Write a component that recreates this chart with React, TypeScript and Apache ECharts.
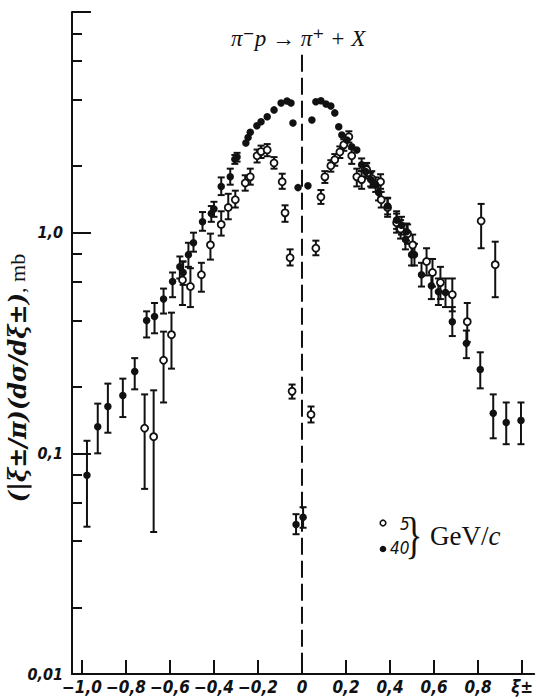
import React, { useEffect, useRef } from "react";
import * as echarts from "echarts";

// 5 GeV/c (open circles)
const x5 = [-0.715, -0.674, -0.629, -0.593, -0.543, -0.507, -0.457, -0.416, -0.367, -0.335, -0.303, -0.258, -0.235,
  -0.204, -0.186, -0.158, -0.127, -0.090, -0.077, -0.054, -0.045, 0.041, 0.063, 0.086, 0.104, 0.131, 0.149, 0.172,
  0.190, 0.213, 0.226, 0.249, 0.271, 0.294, 0.317, 0.357, 0.360, 0.389, 0.430, 0.448, 0.480, 0.503, 0.566, 0.593,
  0.629, 0.683, 0.751, 0.814, 0.878];
const y5 = [0.13, 0.119, 0.264, 0.345, 0.61, 0.57, 0.645, 0.88, 1.09, 1.30, 1.41, 1.68, 1.79,
  2.23, 2.33, 2.37, 2.07, 1.70, 1.23, 0.77, 0.191, 0.15, 0.85, 1.45, 1.79, 2.01, 2.14, 2.32,
  2.50, 2.72, 2.23, 1.79, 1.74, 1.93, 1.76, 1.70, 1.41, 1.30, 1.11, 1.04, 0.99, 0.88, 0.74, 0.66,
  0.594, 0.524, 0.395, 1.13, 0.716];
const lo5 = [0.069, 0.044, 0.17, 0.242, 0.47, 0.46, 0.54, 0.755, 0.97, 1.15, 1.3, 1.55, 1.65,
  2.08, 2.18, 2.22, 1.95, 1.58, 1.12, 0.71, 0.177, 0.138, 0.79, 1.35, 1.68, 1.89, 2.01, 2.18,
  2.35, 2.56, 2.05, 1.62, 1.58, 1.8, 1.6, 1.58, 1.3, 1.18, 1.0, 0.94, 0.89, 0.79, 0.64, 0.57,
  0.5, 0.44, 0.32, 0.85, 0.51];
const hi5 = [0.185, 0.193, 0.356, 0.434, 0.74, 0.69, 0.73, 0.99, 1.25, 1.5, 1.55, 1.82, 1.95,
  2.38, 2.48, 2.52, 2.2, 1.85, 1.33, 0.84, 0.205, 0.163, 0.92, 1.56, 1.9, 2.13, 2.27, 2.46,
  2.65, 2.88, 2.4, 1.95, 1.9, 2.07, 1.9, 1.84, 1.53, 1.43, 1.22, 1.14, 1.09, 0.98, 0.85, 0.76,
  0.7, 0.62, 0.48, 1.35, 0.91];

// 40 GeV/c (filled dots)
const x40 = [-0.977, -0.928, -0.882, -0.814, -0.760, -0.706, -0.670, -0.629, -0.588, -0.555, -0.540, -0.516, -0.493,
  -0.452, -0.412, -0.400, -0.367, -0.326, -0.305, -0.295, -0.255, -0.245, -0.235, -0.205, -0.186, -0.158, -0.127,
  -0.095, -0.068, -0.050, -0.041, -0.027, -0.018, 0.005, 0.027, 0.045, 0.063, 0.086, 0.109, 0.131, 0.149, 0.167,
  0.181, 0.204, 0.226, 0.249, 0.271, 0.290, 0.312, 0.335, 0.348, 0.389, 0.430, 0.452, 0.470, 0.475, 0.498, 0.511,
  0.543, 0.588, 0.620, 0.652, 0.683, 0.747, 0.810, 0.869, 0.928, 0.995];
const y40 = [0.0795, 0.132, 0.163, 0.183, 0.235, 0.40, 0.417, 0.50, 0.60, 0.70, 0.66, 0.795, 0.90,
  1.12, 1.22, 1.28, 1.62, 1.79, 2.15, 2.20, 2.55, 2.70, 2.85, 3.05, 3.18, 3.35, 3.60,
  3.87, 3.95, 3.87, 3.14, 0.0476, 1.60, 0.0513, 1.63, 3.24, 3.92, 3.96, 3.83, 3.75, 3.49, 3.02,
  2.77, 2.63, 2.45, 2.37, 2.03, 1.89, 1.74, 1.65, 1.52, 1.32, 1.14, 1.08, 0.93, 1.01, 0.795, 0.795,
  0.645, 0.575, 0.54, 0.535, 0.395, 0.315, 0.24, 0.152, 0.138, 0.141];
const lo40 = [0.0465, 0.1, 0.124, 0.146, 0.195, 0.335, 0.35, 0.43, 0.51, 0.62, 0.58, 0.7, 0.82,
  1.02, 1.12, 1.18, 1.48, 1.65, 2.05, 2.1, null, null, null, null, null, null, null,
  null, null, null, null, 0.043, null, 0.046, null, null, null, null, null, null, null, null,
  null, null, null, null, 1.9, 1.76, 1.62, 1.53, 1.4, 1.21, 1.04, 0.98, 0.84, 0.92, 0.71, 0.71,
  0.57, 0.5, 0.47, 0.46, 0.34, 0.27, 0.197, 0.117, 0.11, 0.11];
const hi40 = [0.114, 0.168, 0.207, 0.218, 0.27, 0.44, 0.48, 0.558, 0.66, 0.78, 0.74, 0.9, 1.0,
  1.24, 1.32, 1.38, 1.78, 1.95, 2.25, 2.3, null, null, null, null, null, null, null,
  null, null, null, null, 0.053, null, 0.057, null, null, null, null, null, null, null, null,
  null, null, null, null, 2.17, 2.02, 1.87, 1.78, 1.64, 1.44, 1.25, 1.18, 1.03, 1.1, 0.89, 0.89,
  0.73, 0.66, 0.62, 0.62, 0.46, 0.36, 0.287, 0.185, 0.17, 0.17];

const xTicks = [-1, -0.8, -0.6, -0.4, -0.2, 0, 0.2, 0.4, 0.6, 0.8, 1];
const yMajor = [0.01, 0.1, 1, 10];
const yLabels = [0.01, 0.1, 1];
const yMinor = [0.02, 0.04, 0.06, 0.08, 0.2, 0.4, 0.6, 0.8, 2, 4, 6, 8];

const NARROW = "'Liberation Sans Narrow', 'DejaVu Sans Condensed', sans-serif";
const SERIF = "'Liberation Serif', 'DejaVu Serif', serif";

function errData(xs: number[], lo: (number | null)[], hi: (number | null)[]) {
  const out: number[][] = [];
  xs.forEach((x, i) => {
    if (lo[i] != null && hi[i] != null) out.push([x, lo[i] as number, hi[i] as number]);
  });
  return out;
}

function renderErr(params: any, api: any) {
  const x = api.value(0);
  const a = api.coord([x, api.value(1)]);
  const b = api.coord([x, api.value(2)]);
  const st = { stroke: "#111", lineWidth: 2 };
  const c = 3.5;
  return {
    type: "group",
    children: [
      { type: "line", shape: { x1: a[0], y1: a[1], x2: b[0], y2: b[1] }, style: st },
      { type: "line", shape: { x1: a[0] - c, y1: a[1], x2: a[0] + c, y2: a[1] }, style: st },
      { type: "line", shape: { x1: b[0] - c, y1: b[1], x2: b[0] + c, y2: b[1] }, style: st },
    ],
  };
}

function fmtX(v: number) {
  const r = Math.round(v * 10) / 10;
  if (r === 0) return "0";
  if (r === 1) return "ξ±";
  return (r < 0 ? "−" : "") + Math.abs(r).toFixed(1).replace(".", ",");
}
function fmtY(v: number) {
  if (v < 0.05) return "0,01";
  if (v < 0.5) return "0,1";
  return "1,0";
}

export default function App() {
  const ref = useRef<HTMLDivElement>(null);
  useEffect(() => {
    if (!ref.current) return;
    const chart = echarts.init(ref.current, null, { renderer: "svg" });
    const option: any = {
      animation: false,
      backgroundColor: "#ffffff",
      grid: { left: 72, right: 0, top: 12, bottom: 25 },
      xAxis: {
        type: "value",
        min: -1.045,
        max: 1.055,
        axisLine: { show: true, onZero: false, lineStyle: { color: "#111", width: 2 } },
        axisTick: { show: true, inside: true, length: 14, lineStyle: { color: "#111", width: 2 }, customValues: xTicks },
        axisLabel: {
          customValues: xTicks,
          formatter: fmtX,
          color: "#111",
          fontFamily: NARROW,
          fontStyle: "italic",
          fontWeight: "bold",
          fontSize: 17,
          margin: 4,
        },
        splitLine: { show: false },
      },
      yAxis: [
        {
          type: "log",
          logBase: 10,
          min: 0.01,
          max: 10,
          axisLine: { show: true, onZero: false, lineStyle: { color: "#111", width: 2 } },
          axisTick: { show: true, inside: true, length: 19, lineStyle: { color: "#111", width: 2 }, customValues: yMajor },
          axisLabel: {
            customValues: yLabels,
            formatter: fmtY,
            color: "#111",
            fontFamily: NARROW,
            fontStyle: "italic",
            fontWeight: "bold",
            fontSize: 16,
            margin: 9,
          },
          splitLine: { show: false },
        },
        {
          type: "log",
          logBase: 10,
          min: 0.01,
          max: 10,
          position: "left",
          axisLine: { show: false, onZero: false },
          axisTick: { show: true, inside: true, length: 10, lineStyle: { color: "#111", width: 2 }, customValues: yMinor },
          axisLabel: { show: false },
          splitLine: { show: false },
        },
      ],
      series: [
        {
          type: "custom",
          renderItem: (params: any, api: any) => {
            const a = api.coord([api.value(0), api.value(1)]);
            const b = api.coord([api.value(0), api.value(2)]);
            return {
              type: "line",
              shape: { x1: a[0], y1: a[1], x2: b[0], y2: b[1] },
              style: { stroke: "#111", lineWidth: 2, lineDash: [17, 6] },
            };
          },
          data: [[0, 6.4, 0.01]],
          encode: { x: 0, y: [1, 2] },
          silent: true,
          z: 1,
        },
        {
          type: "custom",
          renderItem: renderErr,
          data: errData(x5, lo5, hi5),
          encode: { x: 0, y: [1, 2] },
          z: 2,
        },
        {
          type: "custom",
          renderItem: renderErr,
          data: errData(x40, lo40, hi40),
          encode: { x: 0, y: [1, 2] },
          z: 2,
        },
        {
          name: "5",
          type: "scatter",
          data: x5.map((x, i) => [x, y5[i]]),
          symbol: "circle",
          symbolSize: 7,
          itemStyle: { color: "#fff", borderColor: "#111", borderWidth: 1.8, opacity: 1 },
          z: 3,
        },
        {
          name: "40",
          type: "scatter",
          data: x40.map((x, i) => [x, y40[i]]),
          symbol: "circle",
          symbolSize: 7.5,
          itemStyle: { color: "#111", opacity: 1 },
          z: 4,
        },
      ],
      graphic: [
        {
          type: "text",
          left: 231,
          top: 27,
          style: {
            text: "π⁻p → π⁺ + X",
            font: `italic 23px ${SERIF}`,
            fill: "#111",
          },
        },
        {
          type: "text",
          x: 17,
          y: 378,
          rotation: Math.PI / 2,
          style: {
            text: "{a|(|ξ±/π)(dσ/dξ±)}{b|, mb}",
            align: "center",
            verticalAlign: "middle",
            fill: "#111",
            rich: {
              a: { font: `italic bold 24px 'DejaVu Serif', serif`, fill: "#111" },
              b: { font: `22px ${SERIF}`, fill: "#111" },
            },
          },
        },
        { type: "circle", shape: { cx: 383, cy: 523, r: 2.8 }, style: { fill: "#fff", stroke: "#111", lineWidth: 1.6 } },
        { type: "circle", shape: { cx: 383, cy: 549, r: 3.3 }, style: { fill: "#111" } },
        {
          type: "text",
          x: 400,
          y: 524,
          style: { text: "5", font: `italic 17px ${NARROW}`, fill: "#111", align: "left", verticalAlign: "middle" },
        },
        {
          type: "text",
          x: 390,
          y: 548,
          style: { text: "40", font: `italic 17px ${NARROW}`, fill: "#111", align: "left", verticalAlign: "middle" },
        },
        {
          type: "text",
          x: 414,
          y: 535,
          scaleX: 0.7,
          style: { text: "}", font: `50px ${SERIF}`, fill: "#111", align: "center", verticalAlign: "middle" },
        },
        {
          type: "text",
          x: 430,
          y: 536,
          style: {
            text: "{n|GeV/}{i|c}",
            verticalAlign: "middle",
            align: "left",
            rich: {
              n: { font: `27px ${SERIF}`, fill: "#111" },
              i: { font: `italic 27px ${SERIF}`, fill: "#111" },
            },
          },
        },
      ],
    };
    chart.setOption(option);
    return () => chart.dispose();
  }, []);
  return <div ref={ref} style={{ position: "absolute", left: 0, top: 0, width: 536, height: 699 }} />;
}
